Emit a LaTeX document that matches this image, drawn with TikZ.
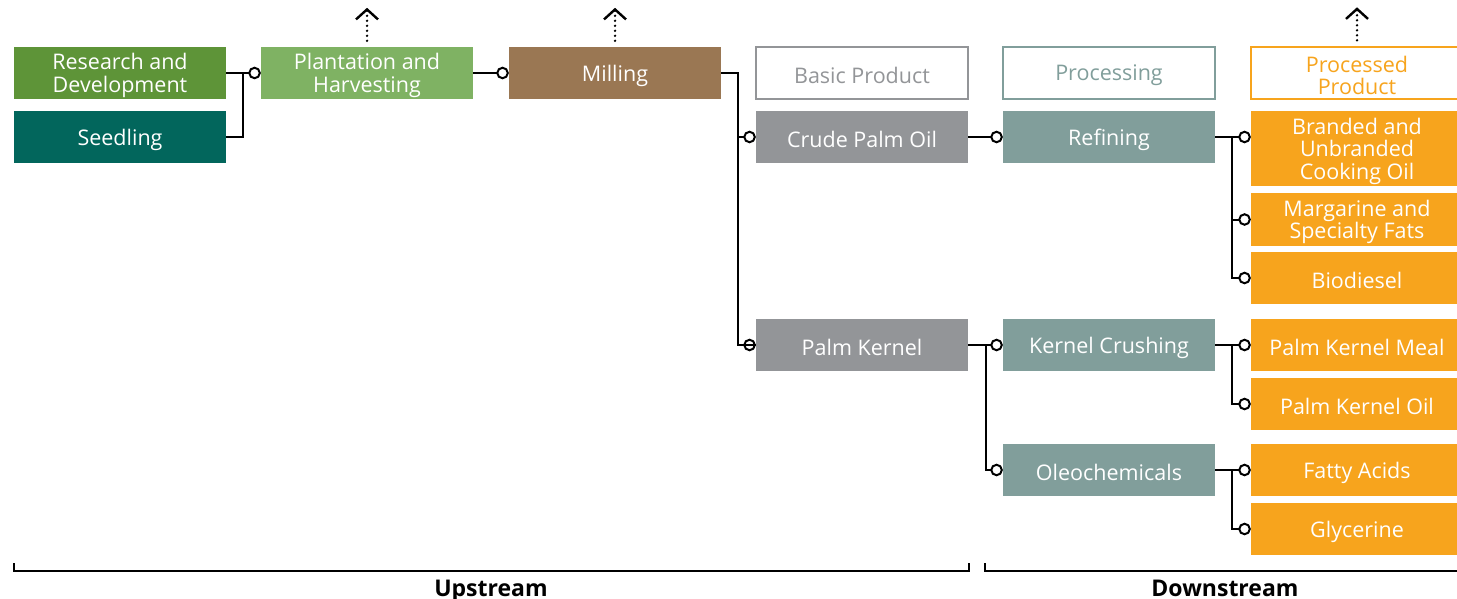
\documentclass[tikz,border=0pt]{standalone}
\usepackage{fontspec}
\setmainfont{Open Sans}
\usetikzlibrary{arrows.meta}
\definecolor{cRD}{HTML}{5E9438}
\definecolor{cSeed}{HTML}{02665C}
\definecolor{cPlant}{HTML}{7FB263}
\definecolor{cMill}{HTML}{9A7753}
\definecolor{cGrey}{HTML}{939598}
\definecolor{cProc}{HTML}{819E9B}
\definecolor{cOrange}{HTML}{F7A41D}
\tikzset{
  lbl/.style={inner sep=0pt, align=center, text=white, yshift=-2.5pt,
    font=\fontsize{21.5}{22.5}\selectfont},
  box/.style={minimum width=212pt, minimum height=52pt, inner sep=0pt,
    label={[lbl]center:#1}},
  hdr/.style n args={2}{minimum width=212pt, minimum height=52pt, inner sep=0pt,
    draw=#1, line width=1.4pt, fill=white, label={[lbl, text=#1]center:#2}},
  conn/.style={line width=2pt, -{Circle[open, length=12.5pt, width=12.5pt, line width=2pt]}},
  plain/.style={line width=2pt},
  uparrow/.style={line width=2.6pt, dash pattern=on 0pt off 5pt, line cap=round,
    -{Straight Barb[length=10pt, width=22pt, line width=2.4pt]}},
  brace/.style={line width=2pt},
  streamlbl/.style={font=\fontsize{23}{24}\selectfont\bfseries, inner sep=0pt}
}
\begin{document}
\begin{tikzpicture}[x=1pt, y=-1pt]
\clip (0,0) rectangle (1457,599);
\fill[white] (0,0) rectangle (1457,599);
% column 1
\node[box={Research and\\Development}, fill=cRD] (rd) at (120,73) {};
\node[box={Seedling}, fill=cSeed] (seed) at (120,137) {};
% column 2
\node[box={Plantation and\\Harvesting}, fill=cPlant] (plant) at (367,73) {};
% column 3
\node[box={Milling}, fill=cMill] (mill) at (615,73) {};
% column 4
\node[hdr={cGrey}{Basic Product}] (basic) at (862,73) {};
\node[box={Crude Palm Oil}, fill=cGrey] (cpo) at (862,137) {};
\node[box={Palm Kernel}, fill=cGrey] (pk) at (862,345) {};
% column 5
\node[hdr={cProc}{Processing}] (procH) at (1109,73) {};
\node[box={Refining}, fill=cProc] (ref) at (1109,137) {};
\node[box={Kernel Crushing}, fill=cProc] (kc) at (1109,345) {};
\node[box={Oleochemicals}, fill=cProc] (oleo) at (1109,470) {};
% column 6
\node[hdr={cOrange}{Processed\\Product}] (ppH) at (1357,73) {};
\node[box={Branded and\\Unbranded\\Cooking Oil}, fill=cOrange, minimum height=75pt] (cook) at (1357,148.5) {};
\node[box={Margarine and\\Specialty Fats}, fill=cOrange, minimum height=53pt] (marg) at (1357,219.5) {};
\node[box={Biodiesel}, fill=cOrange] (bio) at (1357,278) {};
\node[box={Palm Kernel Meal}, fill=cOrange] (pkm) at (1357,345) {};
\node[box={Palm Kernel Oil}, fill=cOrange] (pko) at (1357,404) {};
\node[box={Fatty Acids}, fill=cOrange] (fa) at (1357,470) {};
\node[box={Glycerine}, fill=cOrange] (gly) at (1357,529) {};

% junction coordinates
\coordinate (j1) at (243,73);
\coordinate (j2) at (738,73);
\coordinate (j3) at (986,345);
\coordinate (j4) at (1232,137);
\coordinate (j5) at (1232,345);
\coordinate (j6) at (1232,470);

% connectors
\draw[conn] (rd.east) -- (plant.west);
\draw[plain] (seed.east) -| (j1);
\draw[conn] (plant.east) -- (mill.west);
\draw[plain] (mill.east) -- (j2) |- (pk.west);
\draw[conn] (j2 |- pk.west) -- (pk.west);
\draw[conn] (j2 |- cpo.west) -- (cpo.west);
\draw[conn] (cpo.east) -- (ref.west);
\draw[conn] (pk.east) -- (kc.west);
\draw[conn] (j3) |- (oleo.west);
\draw[conn] (ref.east) -- (j4 -| cook.west);
\draw[conn] (j4) |- (marg.west);
\draw[conn] (j4) |- (bio.west);
\draw[conn] (kc.east) -- (pkm.west);
\draw[conn] (j5) |- (pko.west);
\draw[conn] (oleo.east) -- (fa.west);
\draw[conn] (j6) |- (gly.west);

% dotted up arrows
\draw[uparrow] ([yshift=6pt]plant.north) -- ([yshift=39pt]plant.north);
\draw[uparrow] ([yshift=6pt]mill.north) -- ([yshift=39pt]mill.north);
\draw[uparrow] ([yshift=6pt]ppH.north) -- ([yshift=39pt]ppH.north);

% upstream / downstream brackets
\coordinate (u1) at (14,563);
\coordinate (u2) at (969,563);
\coordinate (d1) at (985,563);
\coordinate (d2) at (1460,571);
\draw[brace] (u1) -- (14,571) -- (969,571) -- (u2);
\draw[brace] (d1) |- (d2);
\node[streamlbl, anchor=base] (up) at (491,596) {Upstream};
\node[streamlbl, anchor=base] (down) at (1225,596) {Downstream};
\end{tikzpicture}
\end{document}
